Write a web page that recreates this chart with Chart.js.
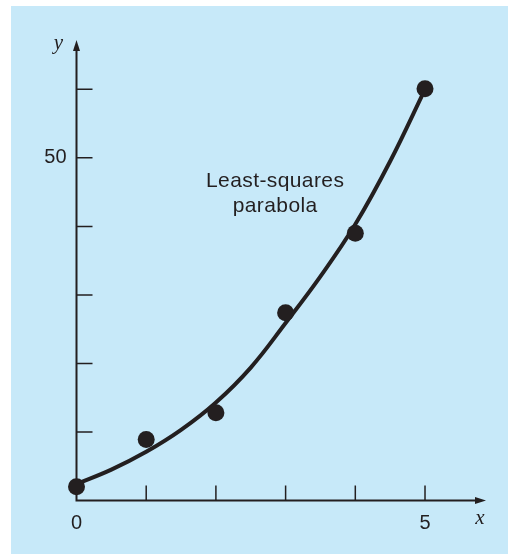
<!DOCTYPE html>
<html>
<head>
<meta charset="utf-8">
<script src="https://cdn.jsdelivr.net/npm/chart.js@4/dist/chart.umd.min.js"></script>
<style>
  html, body { margin: 0; padding: 0; background: #ffffff; }
  #wrap { width: 509px; height: 554px; position: relative; }
</style>
</head>
<body>
<div id="wrap"><canvas id="c" width="509" height="554"></canvas></div>
<script>
// ---- data ----
const dataX = [0, 1, 2, 3, 4, 5];
const dataY = [2.0, 8.9, 12.8, 27.4, 39.0, 60.1];

// least-squares parabola
const curveX = [0, 0.5, 1, 1.5, 2, 2.5, 3, 3.5, 4, 4.5, 5];
const curveY = [2.4, 4.5, 7.1, 10.3, 14.3, 19.4, 25.9, 32.7, 40.3, 49.5, 60.0];

// tick marks and labels
const xTickMarks = [1, 2, 3, 4, 5];
const yTickMarks = [10, 20, 30, 40, 50, 60];
const xTickLabels = [0, 5];
const yTickLabels = [50];

const xAxisMax = 5.875;
const yAxisMax = 67.2;

const annotationLines = ['Least-squares', 'parabola'];
const annotationAt = { x: 2.85, y: 45.8 };

const INK = '#231f20';
const BG = '#c7e9f9';

const decor = {
  id: 'decor',
  beforeDraw(chart) {
    const ctx = chart.ctx;
    ctx.save();
    ctx.fillStyle = BG;
    ctx.fillRect(11, 6, 497, 548);
    ctx.restore();
  },
  beforeDatasetsDraw(chart) {
    const ctx = chart.ctx;
    const xs = chart.scales.x, ys = chart.scales.y;
    const x0 = xs.getPixelForValue(0), y0 = ys.getPixelForValue(0);
    const xEnd = xs.getPixelForValue(xAxisMax), yEnd = ys.getPixelForValue(yAxisMax);
    ctx.save();
    ctx.strokeStyle = INK;
    ctx.fillStyle = INK;
    ctx.lineWidth = 2;
    // axes
    ctx.beginPath();
    ctx.moveTo(x0, y0);
    ctx.lineTo(x0, yEnd + 6);
    ctx.moveTo(x0 - 1, y0);
    ctx.lineTo(xEnd - 6, y0);
    ctx.stroke();
    // arrow heads
    ctx.beginPath();
    ctx.moveTo(x0, yEnd);
    ctx.lineTo(x0 - 3.5, yEnd + 11);
    ctx.lineTo(x0 + 3.5, yEnd + 11);
    ctx.closePath();
    ctx.fill();
    ctx.beginPath();
    ctx.moveTo(xEnd, y0);
    ctx.lineTo(xEnd - 11, y0 - 3.5);
    ctx.lineTo(xEnd - 11, y0 + 3.5);
    ctx.closePath();
    ctx.fill();
    // tick marks (inside)
    ctx.lineWidth = 1.5;
    ctx.beginPath();
    xTickMarks.forEach(v => {
      const px = xs.getPixelForValue(v);
      ctx.moveTo(px, y0);
      ctx.lineTo(px, y0 - 15);
    });
    yTickMarks.forEach(v => {
      const py = ys.getPixelForValue(v);
      ctx.moveTo(x0, py);
      ctx.lineTo(x0 + 16, py);
    });
    ctx.stroke();
    // axis titles
    ctx.font = 'italic 21px "Liberation Serif"';
    ctx.textAlign = 'center';
    ctx.textBaseline = 'middle';
    ctx.fillText('y', x0 - 18, yEnd + 3);
    ctx.fillText('x', xEnd - 6, y0 + 18);
    // annotation
    ctx.font = '21px "Liberation Sans"';
    try { ctx.letterSpacing = '0.4px'; } catch (e) {}
    ctx.textBaseline = 'alphabetic';
    const ax = xs.getPixelForValue(annotationAt.x);
    const ay = ys.getPixelForValue(annotationAt.y);
    annotationLines.forEach((t, i) => ctx.fillText(t, ax, ay + i * 25.5));
    ctx.restore();
  }
};

new Chart(document.getElementById('c'), {
  type: 'scatter',
  data: {
    datasets: [
      {
        type: 'line',
        data: curveX.map((x, i) => ({ x, y: curveY[i] })),
        borderColor: INK,
        borderWidth: 4,
        pointRadius: 0,
        fill: false,
        tension: 0.4,
        clip: false,
        order: 2
      },
      {
        data: dataX.map((x, i) => ({ x, y: dataY[i] })),
        backgroundColor: INK,
        borderColor: INK,
        borderWidth: 0,
        pointRadius: 8.5,
        clip: false,
        order: 1
      }
    ]
  },
  options: {
    responsive: false,
    animation: false,
    devicePixelRatio: 1,
    layout: { padding: { top: 40, right: 23, left: 0, bottom: 0 } },
    plugins: { legend: { display: false }, tooltip: { enabled: false } },
    scales: {
      x: {
        type: 'linear',
        min: 0,
        max: xAxisMax,
        grid: { display: false, drawTicks: false },
        border: { display: false },
        afterBuildTicks: s => { s.ticks = xTickLabels.map(v => ({ value: v })); },
        afterFit: s => { s.height = 53.5; },
        ticks: {
          padding: 11,
          color: INK,
          font: { family: 'Liberation Sans', size: 20 },
          callback: v => String(v)
        }
      },
      y: {
        type: 'linear',
        min: 0,
        max: yAxisMax,
        grid: { display: false, drawTicks: false },
        border: { display: false },
        afterBuildTicks: s => { s.ticks = yTickLabels.map(v => ({ value: v })); },
        afterFit: s => { s.width = 76.5; },
        ticks: {
          padding: 10,
          color: INK,
          font: { family: 'Liberation Sans', size: 20 },
          callback: v => String(v)
        }
      }
    }
  },
  plugins: [decor]
});
</script>
</body>
</html>
